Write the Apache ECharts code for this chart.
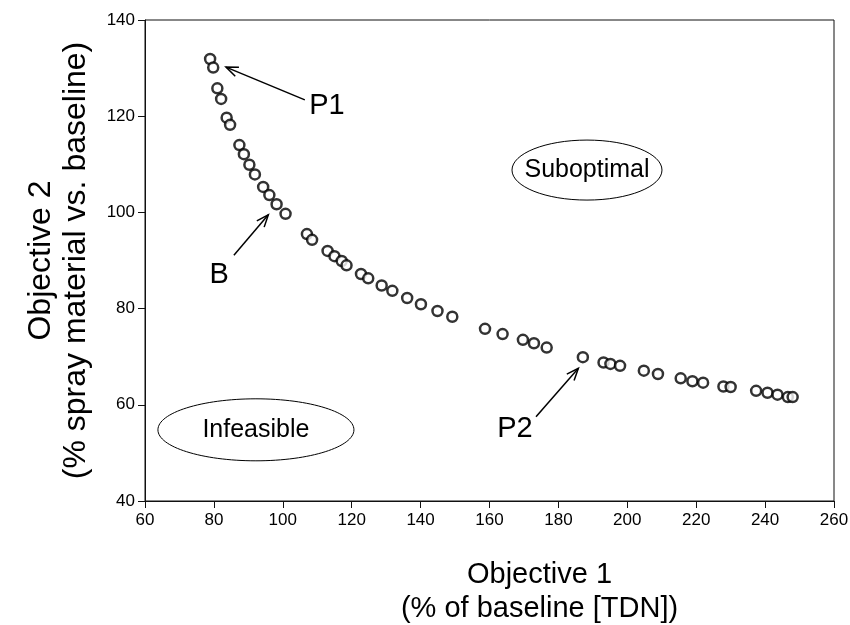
<!DOCTYPE html>
<html>
<head>
<meta charset="utf-8">
<script src="https://cdn.jsdelivr.net/npm/echarts@6/dist/echarts.min.js"></script>
<style>
  html, body { margin: 0; padding: 0; background: #fff; }
  #chart { width: 850px; height: 625px; }
</style>
</head>
<body>
<div id="chart"></div>
<script>
// Pareto front points
const obj1 = [78.9, 79.8, 81.0, 82.1, 83.7, 84.7, 87.4, 88.7, 90.3, 91.9,
              94.3, 96.1, 98.2, 100.8, 107.0, 108.5, 113.0, 115.0, 117.1, 118.5,
              122.7, 124.8, 128.7, 131.8, 136.1, 140.1, 144.9, 149.2, 158.7, 163.8,
              169.7, 172.9, 176.6, 187.1, 193.1, 195.1, 197.9, 204.8, 208.9, 215.5,
              218.9, 222.0, 227.9, 230.0, 237.4, 240.7, 243.6, 246.6, 248.0];
const obj2 = [131.9, 130.1, 125.8, 123.6, 119.7, 118.2, 114.0, 112.1, 109.9, 107.9,
              105.3, 103.6, 101.7, 99.7, 95.5, 94.3, 92.0, 90.9, 89.9, 89.0,
              87.2, 86.3, 84.8, 83.7, 82.2, 80.9, 79.5, 78.3, 75.8, 74.7,
              73.5, 72.8, 71.9, 69.9, 68.8, 68.5, 68.1, 67.1, 66.4, 65.5,
              64.9, 64.6, 63.8, 63.7, 62.9, 62.5, 62.1, 61.6, 61.6];

// annotations (data units)
const arrowNames = ['P1', 'B', 'P2'];
const arrowTails = [[106.4, 123.4], [85.8, 91.1], [173.5, 57.5]];
const arrowTips = [[83.5, 130.2], [95.8, 99.5], [185.8, 67.6]];
const arrowLabels = [[112.8, 122.1], [81.5, 87.0], [167.4, 55.0]];
const regionNames = ['Suboptimal', 'Infeasible'];
const regionCenters = [[188.3, 108.8], [92.2, 54.8]];

const font = 'Arial, "Liberation Sans", sans-serif';
const chart = echarts.init(document.getElementById('chart'));

chart.setOption({
  animation: false,
  grid: {
    left: 145, right: 16, top: 20, bottom: 124,
    outerBoundsMode: 'none', containLabel: false,
    show: true, borderColor: '#111', borderWidth: 1
  },
  xAxis: {
    type: 'value', min: 60, max: 260, interval: 20,
    name: 'Objective 1\n(% of baseline [TDN])',
    nameLocation: 'middle', nameGap: 57,
    nameTextStyle: { fontFamily: font, fontSize: 29, color: '#000', lineHeight: 34, verticalAlign: 'top', padding: [0, 0, 0, 100] },
    axisLine: { lineStyle: { color: '#111', width: 1 } },
    axisTick: { inside: false, length: 7, lineStyle: { color: '#111' } },
    axisLabel: { fontFamily: font, fontSize: 17, color: '#000', margin: 11 },
    splitLine: { show: false }
  },
  yAxis: {
    type: 'value', min: 40, max: 140, interval: 20,
    name: 'Objective 2\n(% spray material vs. baseline)',
    nameLocation: 'middle', nameGap: 51, nameRotate: 90,
    nameTextStyle: { fontFamily: font, fontSize: 32, color: '#000', lineHeight: 35 },
    axisLine: { lineStyle: { color: '#111', width: 1 } },
    axisTick: { inside: false, length: 7, lineStyle: { color: '#111' } },
    axisLabel: { fontFamily: font, fontSize: 17, color: '#000', margin: 10 },
    splitLine: { show: false }
  },
  series: [{
    type: 'scatter',
    data: obj1.map((x, i) => [x, obj2[i]]),
    symbol: 'circle',
    symbolSize: 10,
    itemStyle: { color: '#fff', borderColor: '#000', borderWidth: 2.5 },
    z: 3
  }]
});

// arrows, labels and ellipses drawn on top, positioned through the axes
const px = p => chart.convertToPixel({ gridIndex: 0 }, p);
const g = [];
arrowNames.forEach((name, i) => {
  const a = px(arrowTails[i]);
  const b = px(arrowTips[i]);
  const ang = Math.atan2(a[1] - b[1], a[0] - b[0]);
  const len = 13, spread = 0.38;
  g.push({ type: 'line', shape: { x1: a[0], y1: a[1], x2: b[0], y2: b[1] }, style: { stroke: '#000', lineWidth: 1.5 } });
  g.push({
    type: 'polyline',
    shape: { points: [
      [b[0] + len * Math.cos(ang + spread), b[1] + len * Math.sin(ang + spread)],
      b,
      [b[0] + len * Math.cos(ang - spread), b[1] + len * Math.sin(ang - spread)]
    ] },
    style: { stroke: '#000', lineWidth: 1.5, fill: null }
  });
  const l = px(arrowLabels[i]);
  g.push({ type: 'text', x: l[0], y: l[1], style: { text: name, font: '29px ' + font, fill: '#000', align: 'center', verticalAlign: 'middle' } });
});
const radii = [[75, 30], [98, 31]];
regionNames.forEach((name, i) => {
  const c = px(regionCenters[i]);
  g.push({ type: 'ellipse', shape: { cx: c[0], cy: c[1], rx: radii[i][0], ry: radii[i][1] }, style: { stroke: '#000', fill: null, lineWidth: 1 } });
  g.push({ type: 'text', x: c[0], y: c[1], style: { text: name, font: '25px ' + font, fill: '#000', align: 'center', verticalAlign: 'middle' } });
});
chart.setOption({ graphic: g });
</script>
</body>
</html>
